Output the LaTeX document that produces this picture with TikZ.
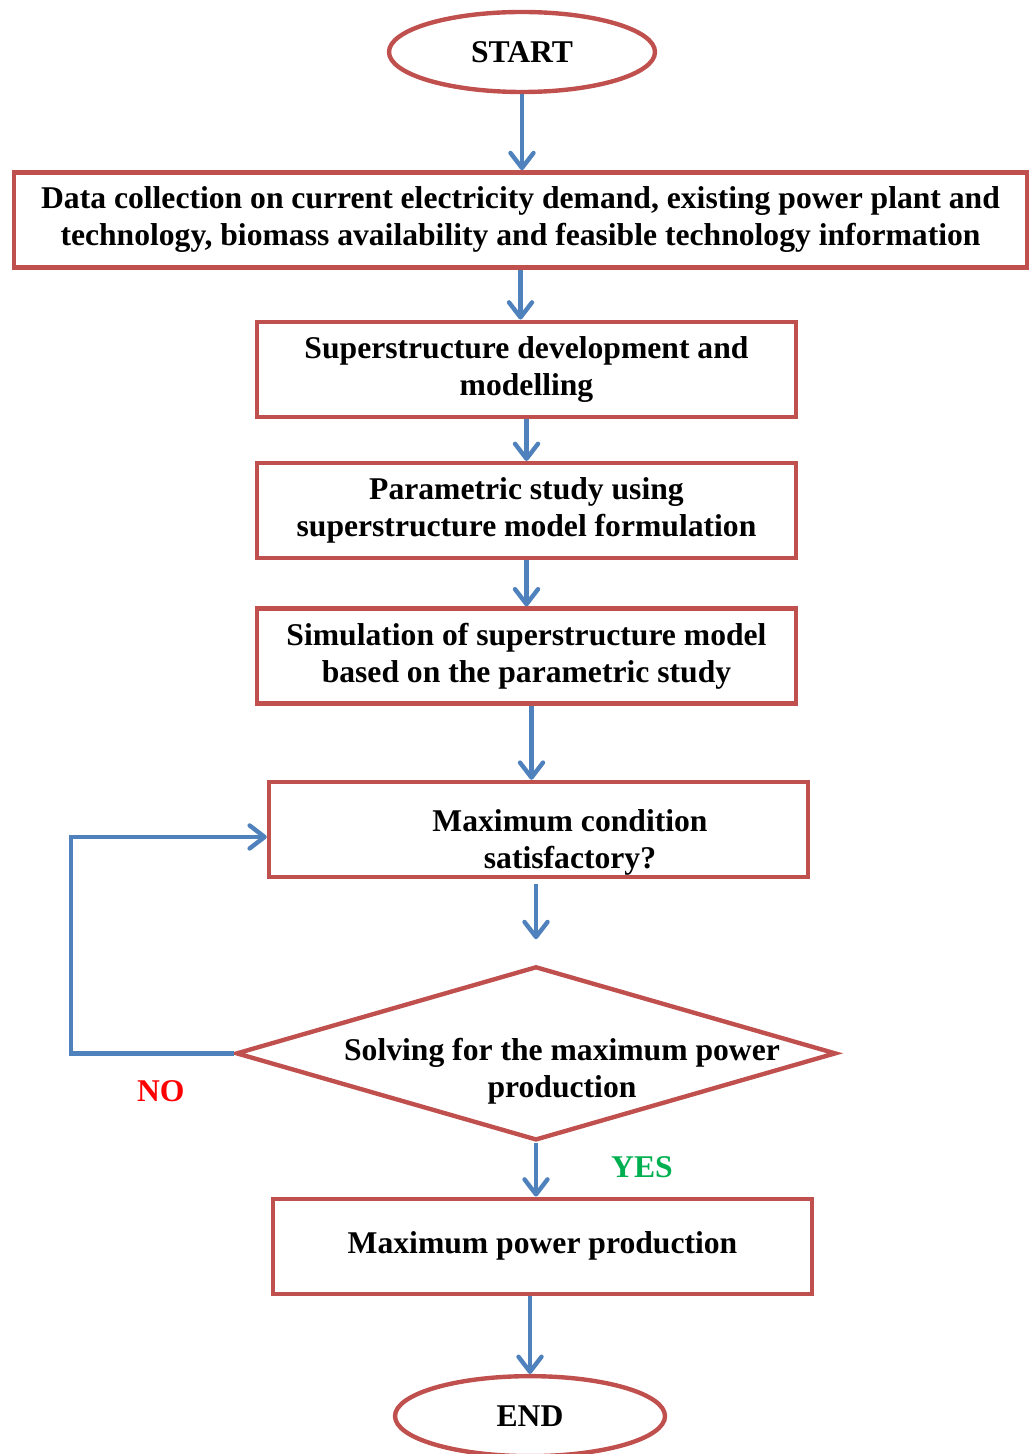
\documentclass[tikz,border=0pt]{standalone}
\usepackage{fontspec}
\setmainfont{Liberation Serif}
\usetikzlibrary{positioning, arrows.meta, shapes.geometric}

\definecolor{boxred}{HTML}{C0504D}
\definecolor{flowblue}{HTML}{4F81BD}
\definecolor{nored}{HTML}{FF0000}
\definecolor{yesgreen}{HTML}{00B050}

\begin{document}
\begin{tikzpicture}[node distance=1cm,
    every node/.style={font=\fontsize{18}{21}\selectfont\bfseries},
    term/.style={ellipse, draw=boxred, line width=2.5pt, minimum width=5.32cm, minimum height=1.6cm, inner sep=0pt},
    stepbox/.style={rectangle, draw=boxred, line width=2.5pt, minimum width=10.78cm, minimum height=1.9cm, align=center, inner sep=0pt},
    decision/.style={diamond, draw=boxred, line width=2.5pt, minimum width=12cm, minimum height=3.48cm, inner sep=0pt},
    edge/.style={-{Straight Barb[length=3mm, width=4.6mm, round]}, draw=flowblue, line width=2.5pt}]

  \useasboundingbox (0,0) rectangle (20.62,-29.08);

  \node[term] (start) at (10.44,-1.04) {START};
  \node[stepbox, minimum width=20.26cm, below=1.52cm of start, xshift=-0.03cm] (data) {Data collection on current electricity demand, existing power plant and\\technology, biomass availability and feasible technology information};
  \node[stepbox, below=1cm of data, xshift=0.12cm] (model) {Superstructure development and\\modelling};
  \node[stepbox, below=0.84cm of model] (param) {Parametric study using\\superstructure model formulation};
  \node[stepbox, below=0.92cm of param] (sim) {Simulation of superstructure model\\based on the parametric study};
  \node[stepbox, below=1.48cm of sim, xshift=0.24cm, label={[xshift=0.63cm, yshift=-0.26cm, align=center]center:{Maximum condition\\satisfactory?}}] (check) {};
  \node[decision, below=1.7cm of check, xshift=-0.05cm, label={[xshift=0.52cm, yshift=-0.36cm, align=center]center:{Solving for the maximum power\\production}}] (solve) {};
  \node[stepbox, below=1.08cm of solve, xshift=0.13cm] (power) {Maximum power production};
  \node[term, minimum width=5.4cm, below=1.56cm of power, xshift=-0.25cm] (end) {END};

  \node[text=nored] (no) at ([shift={(-1.46,-0.76)}]solve.west) {NO};
  \node[text=yesgreen] (yes) at ([shift={(2.12,-0.5)}]solve.south) {YES};

  \draw[edge] (start.south) -- (start.south |- data.north);
  \draw[edge] (data.south) -- (data.south |- model.north);
  \draw[edge] (model.south) -- (model.south |- param.north);
  \draw[edge] (param.south) -- (param.south |- sim.north);
  \draw[edge] ([xshift=0.1cm]sim.south) -- ([xshift=0.1cm]sim.south |- check.north);
  \draw[edge, shorten <=0.1cm, shorten >=0.5cm] (check.south -| solve.north) -- (solve.north);
  \draw[edge] (solve.south) -- (solve.south |- power.north);
  \draw[edge] (power.south -| end.north) -- (end.north);

  \draw[edge] (solve.west) -- ++(-3.26,0) |- ([yshift=-0.15cm]check.west);
\end{tikzpicture}
\end{document}
